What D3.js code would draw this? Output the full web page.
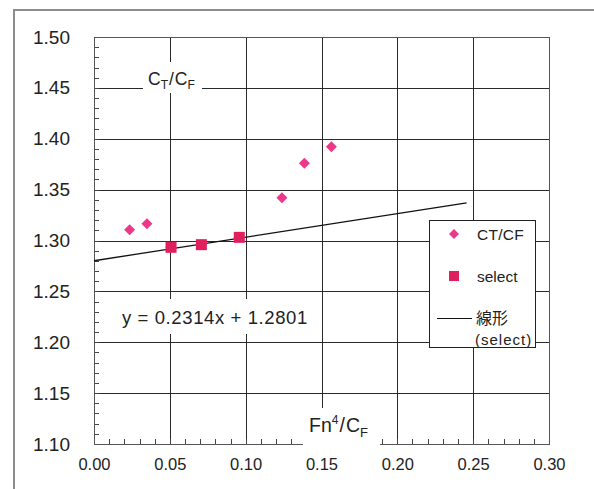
<!DOCTYPE html>
<html>
<head>
<meta charset="utf-8">
<script src="https://cdn.jsdelivr.net/npm/d3@7"></script>
<style>
  html, body { margin: 0; padding: 0; background: #fff; }
  svg { display: block; font-family: "Liberation Sans", Arial, sans-serif; }
</style>
</head>
<body>
<svg id="chart" width="594" height="489"></svg>
<script>
// ---- data ----
const ctcfX = [0.0235, 0.0349, 0.0506, 0.0706, 0.0956, 0.1239, 0.1387, 0.1565];
const ctcfY = [1.3106, 1.3165, 1.2933, 1.2959, 1.3031, 1.3420, 1.3759, 1.3922];
const selectX = [0.0508, 0.0708, 0.0958];
const selectY = [1.2933, 1.2959, 1.3031];
const fitSlope = 0.2314;
const fitIntercept = 1.2801;
const fitRange = [0.0, 0.2457];
const xTicks = [0.00, 0.05, 0.10, 0.15, 0.20, 0.25, 0.30];
const yTicks = [1.10, 1.15, 1.20, 1.25, 1.30, 1.35, 1.40, 1.45, 1.50];
const equationLabel = "y = 0.2314x + 1.2801";
const legendLabels = ["CT/CF", "select", "線形", "(select)"];

// ---- layout ----
const svg = d3.select("#chart");
const L = 94, R = 549, T = 37, B = 444;
const x = d3.scaleLinear().domain([0, 0.30]).range([L, R]);
const y = d3.scaleLinear().domain([1.10, 1.50]).range([B, T]);
const pink = "#ec3889", crimson = "#e0205c";

// outer frame (top + left visible)
svg.append("rect").attr("x", 14).attr("y", 10).attr("width", 620).attr("height", 520)
  .attr("fill", "none").attr("stroke", "#8c8c8c").attr("stroke-width", 2);

// grid
const g = svg.append("g").attr("shape-rendering", "crispEdges");
g.selectAll(".vg").data(xTicks.slice(1, -1)).join("line")
  .attr("x1", d => Math.round(x(d)) + 0.5).attr("x2", d => Math.round(x(d)) + 0.5)
  .attr("y1", T).attr("y2", B).attr("stroke", "#2a2a2a");
g.selectAll(".hg").data(yTicks.slice(1, -1)).join("line")
  .attr("y1", d => Math.round(y(d)) + 0.5).attr("y2", d => Math.round(y(d)) + 0.5)
  .attr("x1", L).attr("x2", R).attr("stroke", "#2a2a2a");

// minor ticks
const yMinor = d3.range(110, 151).map(v => v / 100);
g.selectAll(".ym").data(yMinor).join("line")
  .attr("x1", L).attr("x2", L + 5)
  .attr("y1", d => Math.round(y(d)) + 0.5).attr("y2", d => Math.round(y(d)) + 0.5)
  .attr("stroke", "#444");
const xMinor = d3.range(0, 31).map(v => v / 100);
g.selectAll(".xm").data(xMinor).join("line")
  .attr("y1", B).attr("y2", B - 5)
  .attr("x1", d => Math.round(x(d)) + 0.5).attr("x2", d => Math.round(x(d)) + 0.5)
  .attr("stroke", "#444");

// plot border
g.append("rect").attr("x", L + 0.5).attr("y", T + 0.5).attr("width", R - L).attr("height", B - T)
  .attr("fill", "none").attr("stroke", "#555");

// axes via d3 (labels only)
const xAxis = svg.append("g").attr("transform", `translate(0,${B})`)
  .call(d3.axisBottom(x).tickValues(xTicks).tickFormat(d3.format(".2f")).tickSize(0).tickPadding(14));
xAxis.select(".domain").remove();
xAxis.selectAll("text").attr("font-size", 16.5).attr("fill", "#222")
  .attr("font-family", "Liberation Sans, Arial, sans-serif");
const yAxis = svg.append("g").attr("transform", `translate(70,0)`)
  .call(d3.axisLeft(y).tickValues(yTicks).tickFormat(d3.format(".2f")).tickSize(0).tickPadding(0));
yAxis.select(".domain").remove();
yAxis.selectAll("text").attr("font-size", 19).attr("fill", "#222")
  .attr("font-family", "Liberation Sans, Arial, sans-serif");

// axis title boxes
svg.append("rect").attr("x", 143).attr("y", 62).attr("width", 59).attr("height", 31).attr("fill", "#fff");
const yt = svg.append("text").attr("x", 148).attr("y", 85).attr("font-size", 17.5).attr("fill", "#222");
yt.append("tspan").text("C");
yt.append("tspan").text("T").attr("font-size", 12).attr("dy", 4);
yt.append("tspan").text("/").attr("dy", -4).attr("dx", 1);
yt.append("tspan").text("C").attr("dx", 1);
yt.append("tspan").text("F").attr("font-size", 12).attr("dy", 4);

svg.append("rect").attr("x", 303).attr("y", 408).attr("width", 77).attr("height", 38).attr("fill", "#fff");
const xt = svg.append("text").attr("x", 309).attr("y", 432).attr("font-size", 19.5).attr("fill", "#222");
xt.append("tspan").text("Fn");
xt.append("tspan").text("4").attr("font-size", 12).attr("dy", -8);
xt.append("tspan").text("/").attr("dy", 8).attr("dx", 1);
xt.append("tspan").text("C").attr("dx", 1);
xt.append("tspan").text("F").attr("font-size", 13).attr("dy", 5);

// equation label
svg.append("rect").attr("x", 113).attr("y", 299).attr("width", 205).attr("height", 35).attr("fill", "#fff");
svg.append("text").attr("x", 122).attr("y", 324).attr("font-size", 18.5).attr("letter-spacing", 0.6)
  .attr("fill", "#222").text(equationLabel);

// fit line
svg.append("line")
  .attr("x1", x(fitRange[0])).attr("y1", y(fitIntercept + fitSlope * fitRange[0]))
  .attr("x2", x(fitRange[1])).attr("y2", y(fitIntercept + fitSlope * fitRange[1]))
  .attr("stroke", "#111").attr("stroke-width", 1.3);

// diamonds
const dsz = 5.5;
svg.selectAll(".dia").data(ctcfX.map((v, i) => [v, ctcfY[i]])).join("path")
  .attr("d", d => `M${x(d[0])},${y(d[1]) - dsz}L${x(d[0]) + dsz},${y(d[1])}L${x(d[0])},${y(d[1]) + dsz}L${x(d[0]) - dsz},${y(d[1])}Z`)
  .attr("fill", pink);
// squares
const ssz = 11;
svg.selectAll(".sq").data(selectX.map((v, i) => [v, selectY[i]])).join("rect")
  .attr("x", d => x(d[0]) - ssz / 2).attr("y", d => y(d[1]) - ssz / 2)
  .attr("width", ssz).attr("height", ssz).attr("fill", crimson);

// legend
const lg = svg.append("g");
lg.append("rect").attr("x", 429.5).attr("y", 220.5).attr("width", 106).attr("height", 127)
  .attr("fill", "#fff").attr("stroke", "#222").attr("stroke-width", 1);
lg.append("path").attr("d", `M454,229L459,234L454,239L449,234Z`).attr("fill", pink);
lg.append("text").attr("x", 477).attr("y", 239.5).attr("font-size", 15.5).attr("letter-spacing", 0.3).attr("fill", "#222").text(legendLabels[0]);
lg.append("rect").attr("x", 449).attr("y", 271).attr("width", 10).attr("height", 10).attr("fill", crimson);
lg.append("text").attr("x", 477).attr("y", 281.5).attr("font-size", 15.5).attr("fill", "#222").text(legendLabels[1]);
lg.append("line").attr("x1", 437).attr("x2", 472).attr("y1", 318.5).attr("y2", 318.5).attr("stroke", "#111");
lg.append("text").attr("x", 476).attr("y", 324).attr("font-size", 16).attr("fill", "#222")
  .attr("font-family", "Noto Sans CJK JP, sans-serif").text(legendLabels[2]);
lg.append("text").attr("x", 475).attr("y", 345).attr("font-size", 15).attr("letter-spacing", 1).attr("fill", "#222").text(legendLabels[3]);
</script>
</body>
</html>
